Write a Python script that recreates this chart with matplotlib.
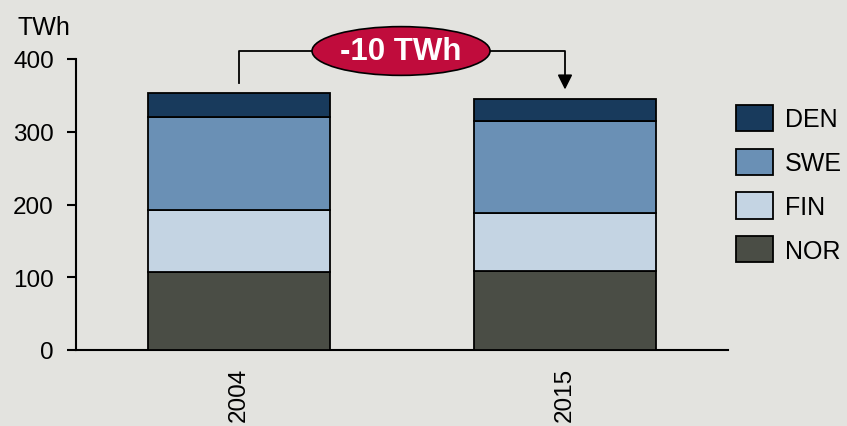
import matplotlib
matplotlib.use("Agg")
import matplotlib.pyplot as plt
import numpy as np
from matplotlib.patches import Ellipse

years = ["2004", "2015"]
series = ["NOR", "FIN", "SWE", "DEN"]
nor = [107, 109]
fin = [85, 80]
swe = [128, 126]
den = [33, 30]
colors = ["#4a4d45", "#c4d4e3", "#6a90b5", "#183a5c"]
change_label = "-10 TWh"

plt.rcParams["font.family"] = ["Liberation Sans", "DejaVu Sans"]
bg = "#e3e3df"

fig = plt.figure(figsize=(8.47, 4.27), dpi=100, facecolor=bg)
ax = fig.add_axes([76 / 847, 1 - 351 / 427, 652 / 847, 291 / 427], facecolor=bg)

x = np.arange(len(years))
bottom = np.zeros(len(years))
handles = []
for name, vals, col in zip(series, [nor, fin, swe, den], colors):
    bars = ax.bar(x, vals, width=0.558, bottom=bottom, color=col,
                  edgecolor="black", linewidth=1.3, label=name, zorder=3)
    handles.append(bars)
    bottom = bottom + np.array(vals)
totals = bottom

ax.set_xlim(-0.5, 1.5)
ax.set_ylim(0, 400)
ax.set_yticks([0, 100, 200, 300, 400])
ax.set_xticks(x)
ax.set_xticklabels(years, rotation=90, fontsize=17.5)
ax.tick_params(axis="x", length=0, pad=12)
ax.tick_params(axis="y", labelsize=17.5, length=6.5, width=1.5, direction="out", pad=9.5)
for s in ["top", "right"]:
    ax.spines[s].set_visible(False)
ax.spines["left"].set_linewidth(1.5)
ax.spines["bottom"].set_linewidth(1.5)

fig.text(17 / 847, 1 - 28 / 427, "TWh", fontsize=18, va="center", ha="left")

# bracket showing change between the two years
bracket_y = totals.max() + 58
ax.plot([x[0], x[0], x[1], x[1]],
        [totals[0] + 14, bracket_y, bracket_y, totals[1] + 20],
        color="black", lw=1.3, clip_on=False, zorder=4)
ax.annotate("", xy=(x[1], totals[1] + 13), xytext=(x[1], totals[1] + 22),
            arrowprops=dict(arrowstyle="-|>", color="black", lw=1.3,
                            mutation_scale=22, shrinkA=0, shrinkB=0),
            annotation_clip=False, zorder=4)
cx = 0.497
ell = Ellipse((cx, bracket_y), 0.546, 67, facecolor="#c00c3c",
              edgecolor="black", lw=1.2, clip_on=False, zorder=5)
ax.add_patch(ell)
ax.text(cx, bracket_y, change_label, color="white", fontsize=22.5,
        fontweight="bold", ha="center", va="center", zorder=6, clip_on=False)

ax.legend(handles[::-1], series[::-1], loc="upper left",
          bbox_to_anchor=(736 / 847, 1 - 106 / 427),
          bbox_transform=fig.transFigure, frameon=False, fontsize=18,
          handlelength=1.49, handleheight=1.23, labelspacing=0.69,
          handletextpad=0.45, borderaxespad=0, borderpad=0)

fig.savefig("out.png", dpi=100, facecolor=bg)
